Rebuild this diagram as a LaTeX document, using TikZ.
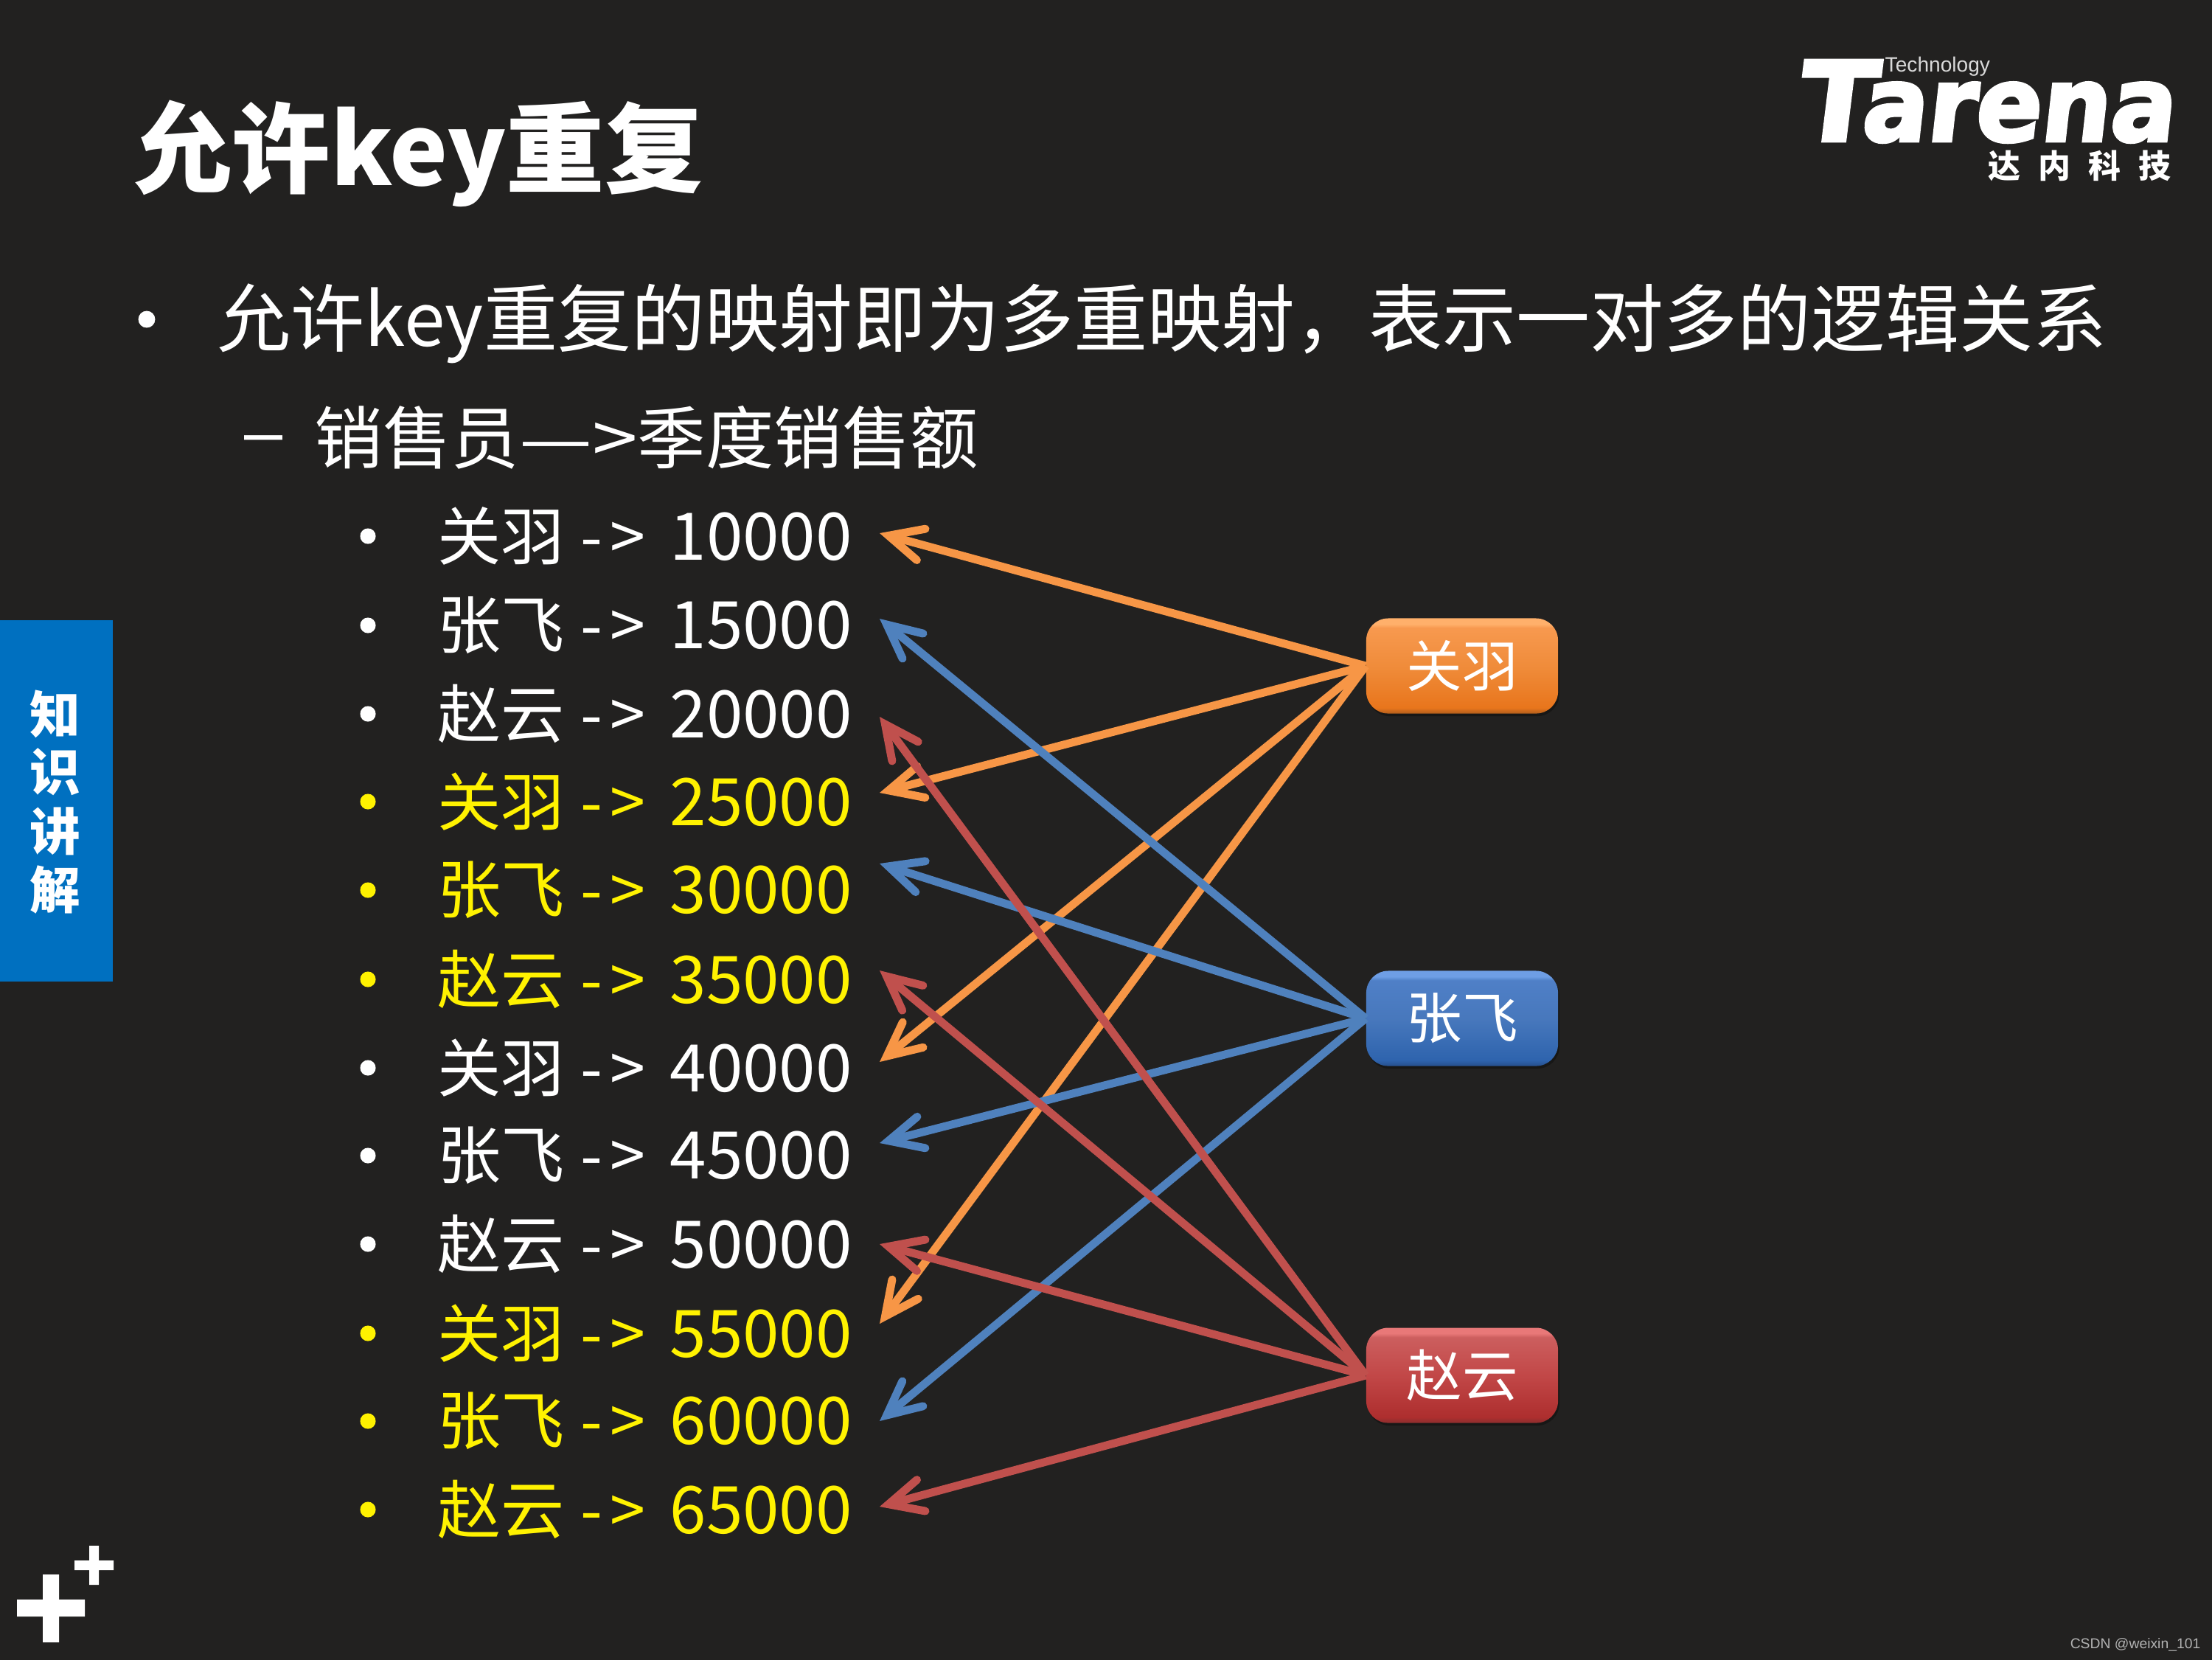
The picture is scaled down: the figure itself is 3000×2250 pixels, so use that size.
\documentclass[tikz,border=0pt]{standalone}
\usepackage{fontspec}
\setmainfont{Noto Sans CJK SC}
\newfontfamily\logofont[FakeSlant=0.12,FakeBold=3.2]{DejaVu Sans Bold}
\newfontfamily\latinfont{Liberation Sans}
\usetikzlibrary{arrows.meta,shadows}
\definecolor{bgdark}{HTML}{222120}
\definecolor{sideblue}{HTML}{0070C0}
\definecolor{guancol}{HTML}{F79646}
\definecolor{zhangcol}{HTML}{4F81BD}
\definecolor{zhaocol}{HTML}{C0504D}
\pgfdeclareverticalshading{guanbevel}{100bp}{rgb(0bp)=(0.70,0.37,0.11); rgb(25bp)=(0.70,0.37,0.11); rgb(28bp)=(0.91,0.46,0.11); rgb(50bp)=(0.94,0.55,0.23); rgb(70bp)=(0.97,0.60,0.31); rgb(72bp)=(1,0.69,0.42); rgb(100bp)=(1,0.69,0.42)}
\pgfdeclareverticalshading{zhangbevel}{100bp}{rgb(0bp)=(0.15,0.31,0.55); rgb(25bp)=(0.15,0.31,0.55); rgb(28bp)=(0.18,0.39,0.68); rgb(50bp)=(0.28,0.47,0.74); rgb(70bp)=(0.31,0.50,0.78); rgb(72bp)=(0.43,0.62,0.90); rgb(100bp)=(0.43,0.62,0.90)}
\pgfdeclareverticalshading{zhaobevel}{100bp}{rgb(0bp)=(0.54,0.18,0.18); rgb(25bp)=(0.54,0.18,0.18); rgb(28bp)=(0.68,0.18,0.18); rgb(50bp)=(0.76,0.28,0.28); rgb(70bp)=(0.80,0.37,0.37); rgb(72bp)=(0.91,0.47,0.47); rgb(100bp)=(0.91,0.47,0.47)}
\tikzset{
  rowtext/.style={anchor=west,inner sep=0pt,font=\fontsize{24.5}{30}\selectfont},
  whobox/.style={rounded corners=8.5pt,minimum width=2.6cm,minimum height=1.29cm,inner sep=0pt,shade,
    text=white,font=\fontsize{21.5}{26}\selectfont,drop shadow={fill=black,opacity=0.3,shadow xshift=0.5pt,shadow yshift=-1pt}},
  link/.style={draw=#1,line width=3.1pt,-{Straight Barb[length=13pt,width=12.5pt,line join=miter,line cap=round]}},
}
\begin{document}
\begin{tikzpicture}[x=0.01cm,y=-0.01cm]
\useasboundingbox (0,0) rectangle (3000,2250);
\fill[bgdark] (-5,-5) rectangle (3005,2255);

% heading
\node[anchor=west,inner sep=0pt,text=white,font=\fontsize{37.9}{46}\selectfont\bfseries] (title) at (181,208) {允许key重复};
\node[circle,fill=white,inner sep=0pt,minimum size=6.5pt] (dot0) at (199,433) {};
\node[anchor=west,inner sep=0pt,text=white,font=\fontsize{28.45}{34}\selectfont] (main) at (294,439) {允许key重复的映射即为多重映射，表示一对多的逻辑关系};
\node[anchor=west,inner sep=0pt,text=white,font=\latinfont\fontsize{26.6}{30}\selectfont] (dash) at (331,604) {–};
\node[anchor=west,inner sep=0pt,text=white,font=\fontsize{26.3}{30}\selectfont] (sub) at (426,593) {销售员\scalebox{1.2}[1]{—>}季度销售额};

% rows
\foreach \i/\who/\amt/\col/\y/\tipy in {
  1/关羽/10000/white/727/723,
  2/张飞/15000/white/848/839,
  3/赵云/20000/white/968/972,
  4/关羽/25000/yellow/1087/1075,
  5/张飞/30000/yellow/1207/1171,
  6/赵云/35000/yellow/1328/1316,
  7/关羽/40000/white/1448/1440,
  8/张飞/45000/white/1567/1550,
  9/赵云/50000/white/1687/1687,
  10/关羽/55000/yellow/1808/1795,
  11/张飞/60000/yellow/1927/1927,
  12/赵云/65000/yellow/2047/2043} {
  \node[circle,fill=\col,inner sep=0pt,minimum size=6pt] (dot\i) at (499,\y) {};
  \node[rowtext,text=\col] (row\i) at (593,\y) {\who\hspace{6pt}-\hspace{3pt}>\hspace{9.5pt}{\fontsize{25.3}{30}\selectfont\amt}};
  \coordinate (tip\i) at (1193,\tipy);
}

% boxes
\node[whobox,shading=guanbevel] (guan) at (1983,903) {关羽};
\node[whobox,shading=zhangbevel] (zhang) at (1983,1381) {张飞};
\node[whobox,shading=zhaobevel] (zhao) at (1983,1865) {赵云};

% links
\foreach \t in {1,4,7,10} \draw[link=guancol] (guan.west) -- (tip\t);
\foreach \t in {2,5,8,11} \draw[link=zhangcol] (zhang.west) -- (tip\t);
\foreach \t in {3,6,9,12} \draw[link=zhaocol] (zhao.west) -- (tip\t);

% side tab
\fill[sideblue] (0,841) rectangle (153,1331);
\foreach \c/\y in {知/968,识/1047,讲/1127,解/1207}
  \node[text=white,inner sep=0pt,font=\fontsize{19.5}{24}\selectfont\bfseries] (side\y) at (75,\y) {\c};

% plus marks
\fill[white] (23,2169) rectangle (115,2192) (58,2135) rectangle (80,2227);
\fill[white] (101,2116) rectangle (154,2129) (121,2096) rectangle (134,2149);

% logo
\node[anchor=base west,inner sep=0pt,text=white,font=\logofont\fontsize{42.5}{43}\selectfont] (logoT) at (2434,191) {\scalebox{1.03}[1]{T}};
\node[anchor=base west,inner sep=0pt,text=white,font=\logofont\fontsize{40}{40}\selectfont] (logoname) at (2522,191) {\scalebox{0.935}[1]{arena}};
\node[anchor=west,inner sep=0pt,text=white!85!black,font=\latinfont\fontsize{8}{10}\selectfont] (logotech) at (2556,90) {Technology};
\node[anchor=west,inner sep=0pt,text=white,font=\fontsize{12.5}{15}\selectfont\bfseries] (logocn) at (2696,225) {达\hspace{6.8pt}内\hspace{6.8pt}科\hspace{6.8pt}技};

% mark
\node[anchor=east,inner sep=0pt,text=black!30,font=\latinfont\fontsize{5.5}{7}\selectfont] (csdn) at (2985,2230) {CSDN @weixin\_101};
\end{tikzpicture}
\end{document}
